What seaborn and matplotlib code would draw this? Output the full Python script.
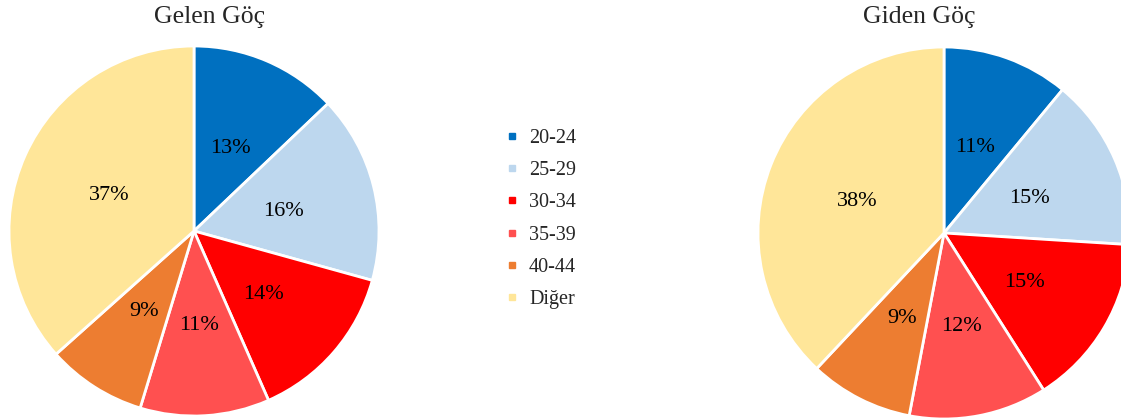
# %%
# === Load modules ===
import matplotlib
matplotlib.use("Agg")
import matplotlib.pyplot as plt
import matplotlib.transforms as mtransforms
from matplotlib.lines import Line2D
import seaborn as sns

# %%
# === Data ===
AGE_GROUPS = ['20-24', '25-29', '30-34', '35-39', '40-44', 'Diğer']
GELEN      = [12.9, 16.4, 14.1, 11.3, 8.7, 36.6]
GIDEN      = [11, 15, 15, 12, 9, 38]
COLORS     = ['#0070C0', '#BDD7EE', '#FF0000', '#FF5050', '#ED7D31', '#FFE699']
TITLES     = ['Gelen Göç', 'Giden Göç']

# === Figure ===
sns.set_theme(style="white")
plt.rcParams['font.family'] = ['Liberation Serif', 'DejaVu Serif']

W, H = 1121, 418
fig = plt.figure(figsize=(W / 100, H / 100), dpi=100)


def pie_axes(cx, cy, r):
    # cx, cy in pixels from the top-left corner
    return fig.add_axes([(cx - r) / W, (H - cy - r) / H, 2 * r / W, 2 * r / H])


ax1 = pie_axes(194, 231, 185)
ax2 = pie_axes(944, 233, 186)

shift = mtransforms.ScaledTranslation(0, -2.5 / 100, fig.dpi_scale_trans)
for ax, vals in [(ax1, GELEN), (ax2, GIDEN)]:
    _, _, pcts = ax.pie(vals, colors=COLORS, startangle=90, counterclock=False,
                        autopct='%1.0f%%', pctdistance=0.5,
                        wedgeprops=dict(edgecolor='white', linewidth=2),
                        textprops=dict(fontsize=16, color='black'))
    for t in pcts:
        t.set_transform(t.get_transform() + shift)
    ax.set_aspect('equal')
    ax.set_xlim(-1, 1)
    ax.set_ylim(-1, 1)

fig.text(210 / W, 1 - 17 / H, TITLES[0], ha='center', va='center', fontsize=18.5)
fig.text(919 / W, 1 - 17 / H, TITLES[1], ha='center', va='center', fontsize=18.5)

# === Legend ===
handles = [Line2D([], [], marker='s', linestyle='none', markersize=5,
                  markerfacecolor=c, markeredgecolor=c) for c in COLORS]
fig.legend(handles, AGE_GROUPS, loc='center', bbox_to_anchor=(541 / W, 1 - 219 / H),
           frameon=False, fontsize=14.5, labelspacing=0.65, handlelength=0.6,
           handletextpad=0.55)

fig.savefig('out.png', dpi=100)
